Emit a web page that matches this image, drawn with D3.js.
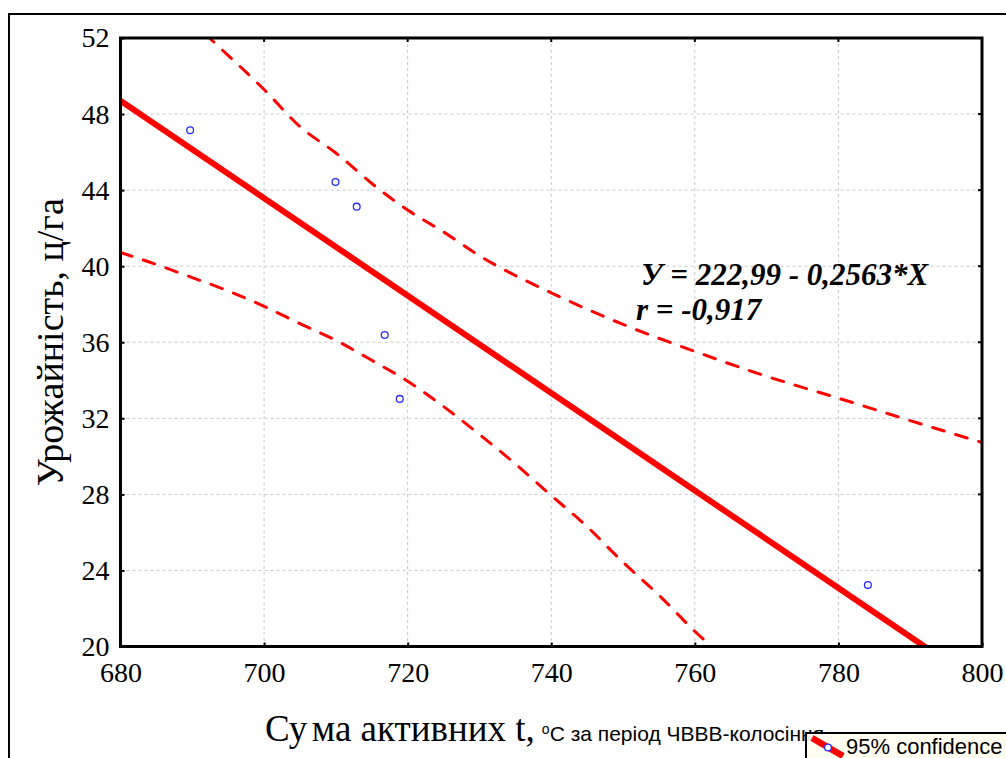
<!DOCTYPE html>
<html>
<head>
<meta charset="utf-8">
<script src="https://cdn.jsdelivr.net/npm/d3@7"></script>
<style>
  html, body { margin: 0; padding: 0; background: #ffffff; }
  svg { display: block; }
</style>
</head>
<body>
<svg id="chart" width="1006" height="758"></svg>
<script>
// Observed points: sum of active temperatures vs yield
const sumActiveT = [689.7, 709.95, 712.9, 716.8, 718.9, 784.1];
const yieldValues = [47.15, 44.43, 43.13, 36.38, 33.02, 23.23];

// Regression Y = a + b*X
const intercept = 222.99;
const slope = -0.2563;
const corrR = -0.917;

// 95% confidence limits
const upperBandX = [680, 690, 692.4, 700, 705, 710, 716, 720, 725, 730, 740, 750, 760, 770, 780, 790, 800];
const upperBandY = [56.7, 52.86, 52.0, 49.29, 47.34, 45.95, 44.05, 42.95, 41.8, 40.55, 38.6, 36.94, 35.52, 34.21, 33.06, 31.88, 30.73];
const lowerBandX = [680, 684, 690, 695, 700, 705, 710, 715, 720, 725, 730, 735, 740, 745, 750, 755, 760, 765];
const lowerBandY = [40.72, 40.22, 39.4, 38.7, 37.89, 36.98, 36.1, 35.05, 33.95, 32.62, 31.15, 29.6, 27.94, 26.3, 24.43, 22.7, 20.8, 19.1];

const xTicks = [680, 700, 720, 740, 760, 780, 800];
const yTicks = [20, 24, 28, 32, 36, 40, 44, 48, 52];

const SERIF = "'Liberation Serif', 'Times New Roman', serif";
const SANS = "'Liberation Sans', Arial, sans-serif";

const svg = d3.select("#chart");
const plotL = 120.5, plotR = 982, plotT = 38, plotB = 646.5;

const x = d3.scaleLinear().domain([680, 800]).range([plotL, plotR]);
const y = d3.scaleLinear().domain([20, 52]).range([plotB, plotT]);

// Outer frame
svg.append("rect")
  .attr("x", 9).attr("y", 14)
  .attr("width", 1010).attr("height", 760)
  .attr("fill", "none").attr("stroke", "#000").attr("stroke-width", 2);

svg.append("defs").append("clipPath").attr("id", "plotClip")
  .append("rect")
  .attr("x", plotL).attr("y", plotT)
  .attr("width", plotR - plotL).attr("height", plotB - plotT);

// Grid
const grid = svg.append("g").attr("class", "grid");
grid.selectAll("line.vx").data(xTicks.slice(1, -1)).enter().append("line")
  .attr("x1", d => x(d)).attr("x2", d => x(d))
  .attr("y1", plotT).attr("y2", plotB)
  .attr("stroke", "#c8c8c8").attr("stroke-width", 1).attr("stroke-dasharray", "3,3");
grid.selectAll("line.hy").data(yTicks.slice(1, -1)).enter().append("line")
  .attr("y1", d => y(d)).attr("y2", d => y(d))
  .attr("x1", plotL).attr("x2", plotR)
  .attr("stroke", "#c8c8c8").attr("stroke-width", 1).attr("stroke-dasharray", "3,3");

const plot = svg.append("g").attr("clip-path", "url(#plotClip)");

// Confidence bands
const bandLine = d3.line().x(d => x(d[0])).y(d => y(d[1])).curve(d3.curveMonotoneX);
[[upperBandX, upperBandY], [lowerBandX, lowerBandY]].forEach(([bx, by]) => {
  plot.append("path")
    .datum(bx.map((v, i) => [v, by[i]]))
    .attr("d", bandLine)
    .attr("fill", "none")
    .attr("stroke", "#ff0000")
    .attr("stroke-width", 3)
    .attr("stroke-linecap", "round")
    .attr("stroke-dasharray", "12,12");
});

// Regression line
const regX = [680, 800];
plot.append("path")
  .datum(regX.map(v => [v, intercept + slope * v]))
  .attr("d", d3.line().x(d => x(d[0])).y(d => y(d[1])))
  .attr("fill", "none")
  .attr("stroke", "#ff0000")
  .attr("stroke-width", 6);

// Points
plot.selectAll("circle").data(sumActiveT).enter().append("circle")
  .attr("cx", d => x(d))
  .attr("cy", (d, i) => y(yieldValues[i]))
  .attr("r", 3.4)
  .attr("fill", "#ffffff")
  .attr("stroke", "#2b2bff")
  .attr("stroke-width", 1.3);

// Axes
const yAxis = d3.axisLeft(y).tickValues(yTicks).tickSize(-4).tickPadding(11).tickFormat(d3.format("d"));
const xAxis = d3.axisBottom(x).tickValues(xTicks).tickSize(-4).tickPadding(16).tickFormat(d3.format("d"));

const gy = svg.append("g").attr("transform", `translate(${plotL},0)`).call(yAxis);
const gx = svg.append("g").attr("transform", `translate(0,${plotB})`).call(xAxis);
[gx, gy].forEach(g => {
  g.attr("font-family", SERIF).attr("font-size", 28);
  g.select(".domain").remove();
  g.selectAll(".tick line").attr("stroke", "#000").attr("stroke-width", 2);
  g.selectAll(".tick text").attr("fill", "#000");
});
// Top and right ticks
svg.append("g").selectAll("line").data(xTicks.slice(1, -1)).enter().append("line")
  .attr("x1", d => x(d)).attr("x2", d => x(d)).attr("y1", plotT).attr("y2", plotT + 4)
  .attr("stroke", "#000").attr("stroke-width", 2);
svg.append("g").selectAll("line").data(yTicks.slice(1, -1)).enter().append("line")
  .attr("x1", plotR - 4).attr("x2", plotR).attr("y1", d => y(d)).attr("y2", d => y(d))
  .attr("stroke", "#000").attr("stroke-width", 2);

// Plot box
svg.append("rect")
  .attr("x", plotL).attr("y", plotT)
  .attr("width", plotR - plotL).attr("height", plotB - plotT)
  .attr("fill", "none").attr("stroke", "#000").attr("stroke-width", 3);

// Axis titles
svg.append("text")
  .attr("transform", `translate(63,${(plotT + plotB) / 2}) rotate(-90)`)
  .attr("text-anchor", "middle")
  .attr("font-family", SERIF)
  .attr("font-size", 38)
  .text("Урожайність, ц/га");

const xt = svg.append("text")
  .attr("x", 265).attr("y", 741)
  .attr("font-family", SERIF)
  .attr("font-size", 37);
xt.append("tspan").text("Су");
xt.append("tspan").attr("dx", 5).text("ма активних t,");
xt.append("tspan")
  .attr("font-family", SANS)
  .attr("font-size", 14).attr("dx", 7).attr("dy", -7).text("o");
xt.append("tspan")
  .attr("font-family", SANS)
  .attr("font-size", 21).attr("dy", 7).text("С за період ЧВВВ-колосіння");

// Equation
const eq = svg.append("g")
  .attr("font-family", SERIF)
  .attr("font-size", 31)
  .attr("font-weight", "bold")
  .attr("font-style", "italic");
eq.append("text").attr("x", 641).attr("y", 285)
  .text(`У = ${String(intercept).replace(".", ",")} - ${String(-slope).replace(".", ",")}*X`);
eq.append("text").attr("x", 636).attr("y", 320)
  .text(`r = ${String(corrR).replace(".", ",")}`);

// Legend
const lg = svg.append("g");
lg.append("rect")
  .attr("x", 806).attr("y", 733).attr("width", 220).attr("height", 60)
  .attr("fill", "#fffcf0").attr("stroke", "#000").attr("stroke-width", 2);
lg.append("line")
  .attr("x1", 812).attr("y1", 738).attr("x2", 843).attr("y2", 756)
  .attr("stroke", "#ff0000").attr("stroke-width", 6.5);
lg.append("circle")
  .attr("cx", 828).attr("cy", 747.5).attr("r", 3.4)
  .attr("fill", "#ffffff").attr("stroke", "#2b2bff").attr("stroke-width", 1.3);
lg.append("text")
  .attr("x", 846).attr("y", 754)
  .attr("font-family", SANS)
  .attr("font-size", 22)
  .text("95% confidence");
</script>
</body>
</html>
